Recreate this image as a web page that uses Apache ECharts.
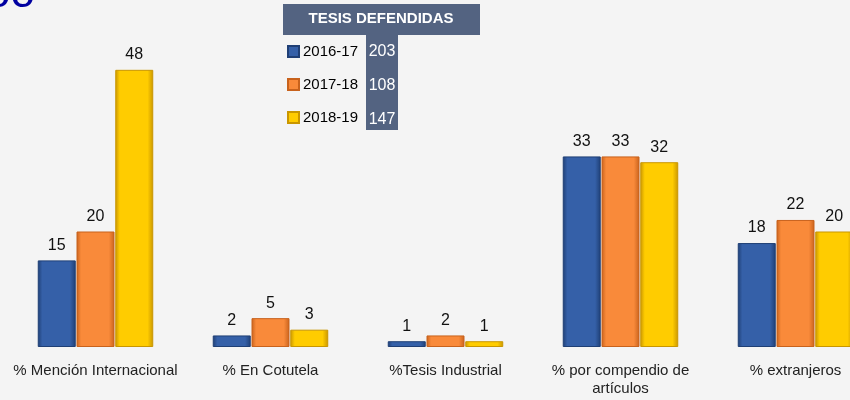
<!DOCTYPE html>
<html>
<head>
    <meta charset="utf-8">
    <title>Tesis defendidas</title>
    <script src="https://cdn.jsdelivr.net/npm/echarts/dist/echarts.min.js"></script>
</head>
<body style="margin:0;background:#f4f4f4;overflow:hidden;">
<!-- el gráfico original está recortado por la derecha -->
<div id="chart-container" style="width: 883px; height: 400px;"></div>
<script>
    // datos
    var categorias = ['% Mención Internacional', '% En Cotutela', '%Tesis Industrial', '% por compendio de\nartículos', '% extranjeros'];
    var cursos = ['2016-17', '2017-18', '2018-19'];
    var tesisDefendidas = [203, 108, 147];
    var valores2016 = [15, 2, 1, 33, 18];
    var valores2017 = [20, 5, 2, 33, 22];
    var valores2018 = [48, 3, 1, 32, 20];
    var tituloTabla = 'TESIS DEFENDIDAS';
    var tituloCortado = 'oo';

    var series = [valores2016, valores2017, valores2018];
    var colores = [
        ['#1f3f75', '#3560a8', '#1f3f75'],
        ['#c8621c', '#f98a3a', '#c8621c'],
        ['#c99600', '#ffcc00', '#c99600']
    ];
    var fuente = '"Liberation Sans", Arial, sans-serif';

    function degradado(c) {
        return new echarts.graphic.LinearGradient(0, 0, 1, 0, [
            { offset: 0, color: c[0] },
            { offset: 0.12, color: c[1] },
            { offset: 0.85, color: c[1] },
            { offset: 1, color: c[2] }
        ]);
    }

    // tabla de tesis defendidas
    var graficos = [
        { type: 'text', x: -14, y: 17, style: { text: tituloCortado, fill: '#0000a0', font: '44px ' + fuente, verticalAlign: 'bottom' } },
        { type: 'rect', shape: { x: 283, y: 4, width: 197, height: 31 }, style: { fill: '#536381' } },
        { type: 'rect', shape: { x: 366, y: 35, width: 32, height: 95 }, style: { fill: '#536381' } },
        { type: 'text', x: 381, y: 19, style: { text: tituloTabla, fill: '#fff', font: 'bold 15px ' + fuente, align: 'center', verticalAlign: 'middle' } }
    ];
    tesisDefendidas.forEach(function (v, i) {
        graficos.push({ type: 'text', x: 382, y: 52 + i * 34, style: { text: String(v), fill: '#fff', font: '16px ' + fuente, align: 'center', verticalAlign: 'middle' } });
    });

    var option = {
        backgroundColor: '#f4f4f4',
        textStyle: { fontFamily: fuente },
        legend: {
            data: cursos,
            orient: 'vertical',
            icon: 'rect',
            left: 287,
            top: 44,
            padding: 0,
            itemWidth: 11,
            itemHeight: 11,
            itemGap: 18,
            textStyle: { color: '#000', fontSize: 15, padding: [0, 0, 0, -1] }
        },
        graphic: graficos,
        grid: { left: 8, right: 0, top: 60, bottom: 53 },
        xAxis: {
            type: 'category',
            data: categorias,
            axisLine: { show: false },
            axisTick: { show: false },
            axisLabel: { color: '#222', fontSize: 15, margin: 15, lineHeight: 18, interval: 0 }
        },
        yAxis: {
            type: 'value',
            min: 0,
            max: 49.7,
            show: false,
            splitLine: { show: false }
        },
        series: series.map(function (datos, i) {
            return {
                name: cursos[i],
                type: 'bar',
                data: datos,
                barGap: '2%',
                barCategoryGap: '34%',
                itemStyle: {
                    color: degradado(colores[i]),
                    borderColor: colores[i][0],
                    borderWidth: 1
                },
                label: {
                    show: true,
                    position: 'top',
                    color: '#111',
                    fontSize: 16,
                    distance: 7
                }
            };
        })
    };

    var chart = echarts.init(document.getElementById('chart-container'));
    chart.setOption(option);
</script>
</body>
</html>
